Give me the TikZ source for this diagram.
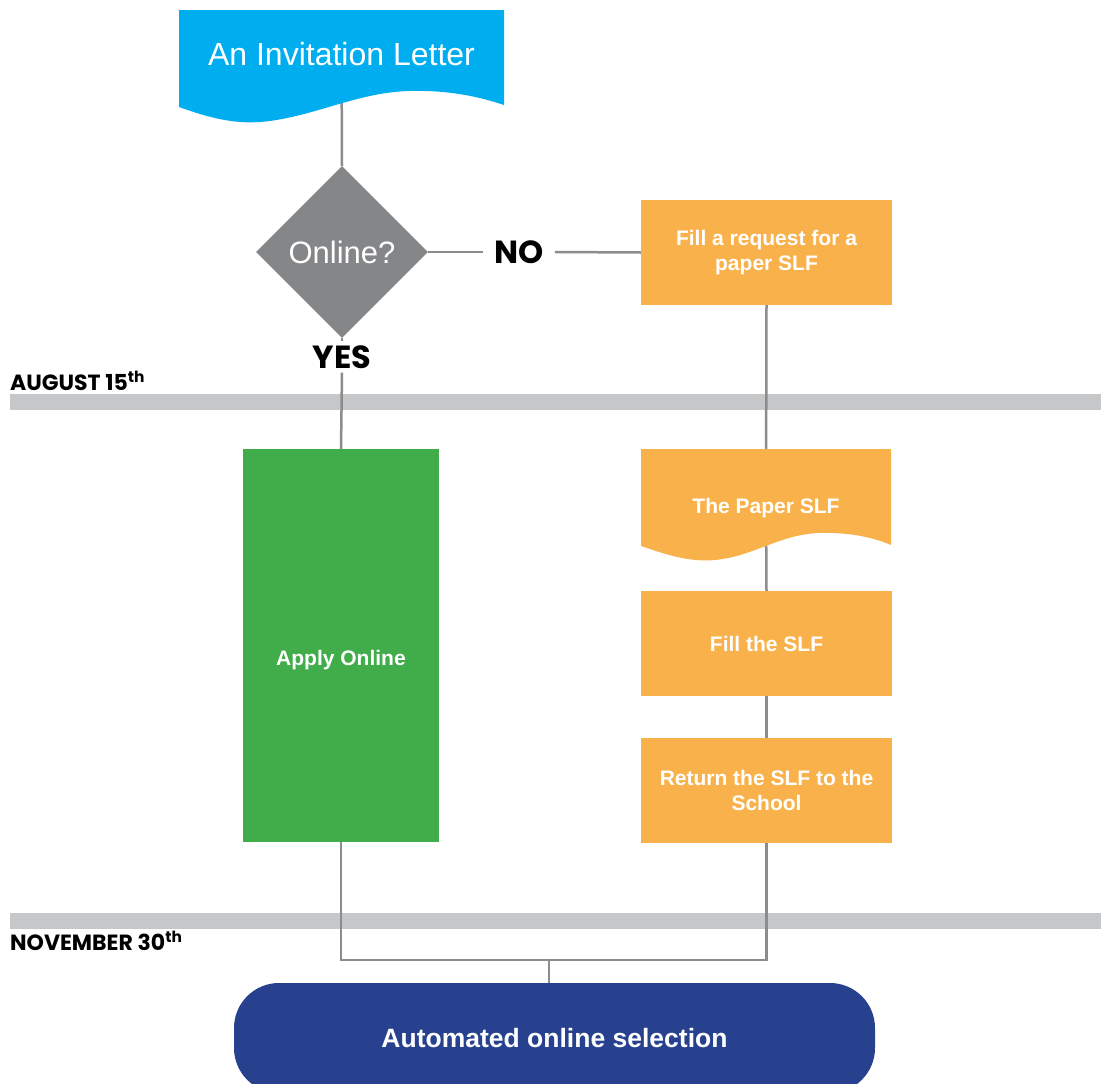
\documentclass[tikz,border=0pt]{standalone}
\usepackage{fontspec}
\setmainfont{Liberation Sans}
\newfontfamily\lblfont{Poppins}
\usetikzlibrary{shapes.geometric,backgrounds}
\definecolor{docblue}{HTML}{00AEEF}
\definecolor{dgray}{HTML}{858688}
\definecolor{boxorange}{HTML}{F9B24B}
\definecolor{boxgreen}{HTML}{41AC4A}
\definecolor{boxnavy}{HTML}{27418F}
\definecolor{barGray}{HTML}{C6C7C8}
\definecolor{lineGray}{HTML}{8C8C8C}
\tikzset{
  conn/.style={draw=lineGray, line width=2.5pt},
  txt/.style={text=white, align=center, inner sep=0pt},
  procbox/.style={fill=boxorange, txt, minimum width=251pt, minimum height=105pt, font=\bfseries\fontsize{21}{25}\selectfont},
  lbl/.style={font=\lblfont\bfseries\fontsize{32}{36}\selectfont, inner xsep=11pt, inner ysep=4pt},
  datelbl/.style={font=\lblfont\bfseries\fontsize{22}{24}\selectfont, anchor=base west, inner sep=0pt},
  bar/.style={fill=barGray}
}
\begin{document}
\begin{tikzpicture}[x=1pt,y=-1pt]
\useasboundingbox (0,0) rectangle (1101,1084);
% top document
\fill[docblue] (179,10) -- (504,10) -- (504,105)
  .. controls (480,97) and (450,90) .. (410,91)
  .. controls (360,92) and (320,114) .. (270,121)
  .. controls (240,125) and (215,120) .. (179,107) -- cycle;
\node[txt, font=\fontsize{32}{36}\selectfont, minimum width=325pt, minimum height=88pt] (letter) at (341.5,54) {An Invitation Letter};
% decision
\node[diamond, fill=dgray, aspect=1, minimum width=172pt, minimum height=172pt, inner sep=0pt, text=white, font=\fontsize{31}{34}\selectfont] (online) at (342,252) {Online?};
\node[lbl] (no) at (519,252) {NO};
\node[lbl] (yes) at (342,357) {YES};
% right column
\node[procbox] (req) at (766.5,252.5) {Fill a request for a\\paper SLF};
\fill[boxorange] (641,449) -- (891,449) -- (891,545)
  .. controls (875,538) and (850,532) .. (820,533)
  .. controls (780,534) and (755,556) .. (715,560)
  .. controls (690,562) and (670,556) .. (641,546) -- cycle;
\node[txt, font=\bfseries\fontsize{21}{25}\selectfont, minimum width=250pt, minimum height=100pt] (paper) at (766,508) {The Paper SLF};
\node[procbox] (fill) at (766.5,643.5) {Fill the SLF};
\node[procbox] (ret) at (766.5,790.5) {Return the SLF to the\\School};
% left column
\node[fill=boxgreen, txt, minimum width=196pt, text height=216pt, text depth=177pt, font=\bfseries\fontsize{21}{25}\selectfont] (apply) at (341,645.5) {Apply Online};
% final
\node[fill=boxnavy, txt, rounded corners=45pt, minimum width=641pt, minimum height=110pt, font=\bfseries\fontsize{26.5}{30}\selectfont] (auto) at (554.5,1038) {Automated online selection};
\coordinate (join) at (549,960);
% dates
\node[datelbl] (aug) at (10,390) {AUGUST 15\textsuperscript{th}};
\node[datelbl] (nov) at (10,950) {NOVEMBER 30\textsuperscript{th}};
\begin{scope}[on background layer]
\fill[bar] (10,394) rectangle (1101,410);
\fill[bar] (10,913) rectangle (1101,929);
\draw[conn] (letter.center) -- (online.north);
\draw[conn] (online.east) -- (no.west);
\draw[conn] (no.east) -- (req.west);
\draw[conn] (online.south) -- (yes.north);
\draw[conn] (yes.south) -- (apply.north);
\draw[conn] (req.south) -- (paper.center);
\draw[conn] (paper.center) -- (fill.north);
\draw[conn] (fill.south) -- (ret.north);
\draw[conn] (apply.south) |- (join) -| (ret.south);
\draw[conn] (join) -- (join |- auto.north);
\end{scope}
\end{tikzpicture}
\end{document}
